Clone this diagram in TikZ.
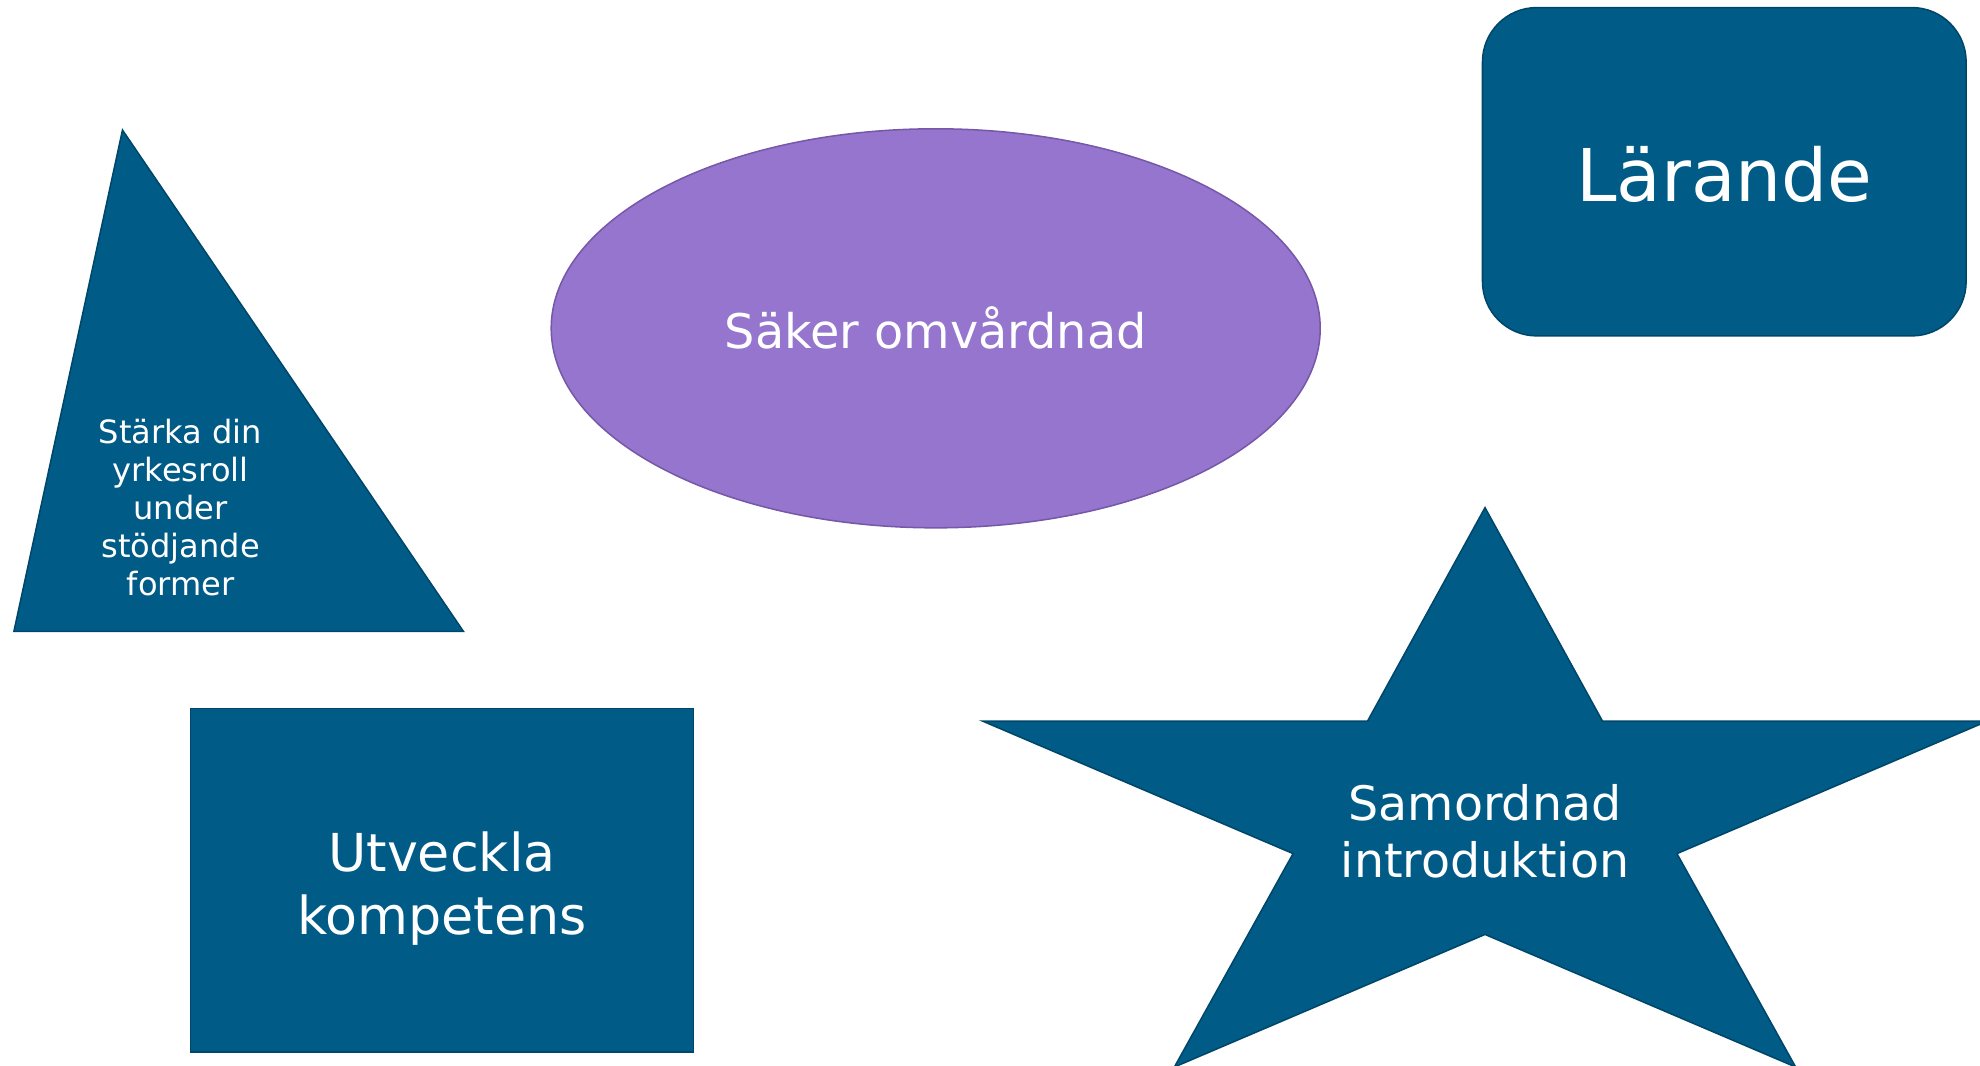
\documentclass[tikz,border=0pt]{standalone}
\usepackage{fontspec}
\setmainfont{DejaVu Sans}
\usetikzlibrary{shapes.geometric}
\definecolor{darkblue}{RGB}{0,91,135}
\definecolor{darkblueline}{RGB}{0,70,105}
\definecolor{lilac}{RGB}{149,117,205}
\definecolor{lilacline}{RGB}{118,88,168}
\tikzset{
  bluefill/.style={fill=darkblue, draw=darkblueline, line width=0.6pt},
  wtext/.style={text=white, align=center, inner sep=0pt},
}
\begin{document}
\begin{tikzpicture}[x=0.5pt,y=-0.5pt]
\useasboundingbox (0,0) rectangle (1568,844);
% triangle
\draw[bluefill] (97,103) coordinate (tA) -- (11,500) coordinate (tB) -- (367,500) coordinate (tC) -- cycle;
\node[wtext, font=\fontsize{12.7}{15}\selectfont] (tri) at (143,402) {Stärka din\\yrkesroll\\under\\stödjande\\former};
% ellipse
\node[ellipse, fill=lilac, draw=lilacline, line width=0.6pt, minimum width=304.5pt, minimum height=158pt, inner sep=0pt, text=white, font=\fontsize{18.9}{22.7}\selectfont] (ell) at (741,260) {Säker omvårdnad};
% rounded rectangle
\node[rectangle, rounded corners=21.5pt, bluefill, minimum width=191.5pt, minimum height=130pt, inner sep=0pt, text=white, text depth=0pt, font=\fontsize{28.8}{34.5}\selectfont] (lar) at (1365.5,136) {\raisebox{-1.5pt}{Lärande}};
% rectangle
\node[rectangle, bluefill, minimum width=199pt, minimum height=136pt, inner sep=0pt] (utv) at (350,697) {};
\node[wtext, font=\fontsize{20.7}{25}\selectfont] (utvtext) at (350,704) {Utveckla\\kompetens};
% star
\draw[bluefill] (1176,402) -- (1269,571) -- (1574,571) -- (1328,676) -- (1422,845)
  -- (1176,740) -- (930,845) -- (1024,676) -- (778,571) -- (1083,571) -- cycle;
\node[wtext, font=\fontsize{18.8}{22.5}\selectfont] (sam) at (1176,658) {Samordnad\\introduktion};
\end{tikzpicture}
\end{document}
